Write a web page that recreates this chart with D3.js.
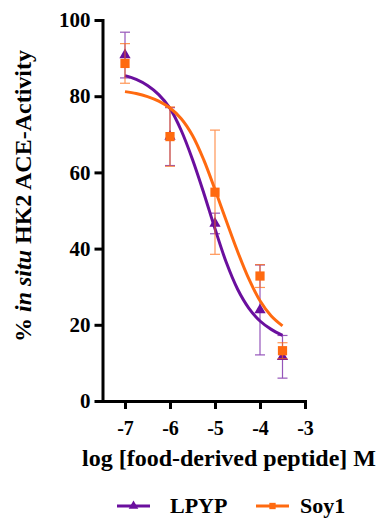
<!DOCTYPE html>
<html>
<head>
<meta charset="utf-8">
<script src="https://cdn.jsdelivr.net/npm/d3@7"></script>
<style>
  body { margin: 0; background: #fff; }
</style>
</head>
<body>
<svg width="382" height="529"></svg>
<script>
// measured points (log M) with SD
const doses = [-7, -6, -5, -4, -3.5];
const lpypMean = [90.8, 69.4, 46.6, 23.9, 11.6];
const lpypErr = [6.0, 7.6, 2.7, 11.8, 5.6];
const soyMean = [88.6, 69.4, 54.8, 32.8, 13.2];
const soyErr = [5.2, 7.8, 16.3, 3.0, 2.1];

// fitted curves
const fitX = [-7, -6.75, -6.5, -6.25, -6, -5.75, -5.5, -5.25, -5, -4.75, -4.5, -4.25, -4, -3.75, -3.5];
const lpypFit = [85.4, 84.4, 82.8, 80.4, 76.8, 71.0, 63.4, 54.6, 45.2, 36.4, 29.4, 24.4, 21.0, 18.8, 17.2];
const soyFit = [81.2, 80.7, 79.9, 78.7, 76.9, 74.1, 69.7, 63.3, 55.5, 47.3, 39.3, 32.1, 26.3, 22.3, 19.7];

const xTicks = [-7, -6, -5, -4, -3];
const yTicks = [0, 20, 40, 60, 80, 100];

const purple = "#6a0f9e";
const orange = "#ff6a10";
const FONT = "'Liberation Serif', 'Times New Roman', Times, serif";

const svg = d3.select("svg");
const x = d3.scaleLinear().domain([-7.5, -3]).range([102.5, 305]);
const y = d3.scaleLinear().domain([0, 100]).range([401, 20]);

// axes
const gx = svg.append("g").attr("transform", "translate(0,401)")
  .call(d3.axisBottom(x).tickValues(xTicks).tickSize(8).tickSizeOuter(0).tickPadding(12).tickFormat(d => String(d)));
const gy = svg.append("g").attr("transform", "translate(102.5,0)")
  .call(d3.axisLeft(y).tickValues(yTicks).tickSize(8).tickSizeOuter(0).tickPadding(4));
gx.attr("font-size", 20);
gy.attr("font-size", 21);
[gx, gy].forEach(g => {
  g.attr("font-family", FONT).attr("font-weight", "bold");
  g.select(".domain").attr("stroke", "#000").attr("stroke-width", 3).attr("stroke-linecap", "square");
  g.selectAll(".tick line").attr("stroke", "#000").attr("stroke-width", 3);
  g.selectAll(".tick text").attr("fill", "#000");
});

// axis titles
svg.append("text")
  .attr("x", 229).attr("y", 466)
  .attr("text-anchor", "middle")
  .attr("font-family", FONT).attr("font-weight", "bold").attr("font-size", 24)
  .text("log [food-derived peptide] M");

const yl = svg.append("text")
  .attr("transform", "translate(31,196) rotate(-90)")
  .attr("text-anchor", "middle")
  .attr("font-family", FONT).attr("font-weight", "bold").attr("font-size", 24);
yl.append("tspan").text("% ");
yl.append("tspan").attr("font-style", "italic").text("in situ");
yl.append("tspan").text(" HK2 ACE-Activity");

const line = d3.line().x(d => x(d[0])).y(d => y(d[1])).curve(d3.curveCatmullRom);

function series(means, errs, fit, color) {
  const g = svg.append("g");
  const pts = doses.map((d, i) => ({ d, m: means[i], e: errs[i] }));
  // error bars
  const eb = g.selectAll(".eb").data(pts).enter().append("g")
    .attr("stroke", color).attr("stroke-width", 1.2).attr("opacity", 0.7);
  eb.append("line").attr("x1", p => x(p.d)).attr("x2", p => x(p.d))
    .attr("y1", p => y(p.m + p.e)).attr("y2", p => y(p.m - p.e));
  eb.append("line").attr("x1", p => x(p.d) - 5).attr("x2", p => x(p.d) + 5)
    .attr("y1", p => y(p.m + p.e)).attr("y2", p => y(p.m + p.e));
  eb.append("line").attr("x1", p => x(p.d) - 5).attr("x2", p => x(p.d) + 5)
    .attr("y1", p => y(p.m - p.e)).attr("y2", p => y(p.m - p.e));
  // fit
  g.append("path").datum(fitX.map((v, i) => [v, fit[i]]))
    .attr("d", line).attr("fill", "none").attr("stroke", color).attr("stroke-width", 3);
  return { g, pts };
}

const sym = {
  tri: d3.symbol().type(d3.symbolTriangle).size(55),
  sq: d3.symbol().type(d3.symbolSquare).size(85)
};

const a = series(lpypMean, lpypErr, lpypFit, purple);
const b = series(soyMean, soyErr, soyFit, orange);
a.g.selectAll(".m").data(a.pts).enter().append("path")
  .attr("d", sym.tri).attr("fill", purple)
  .attr("transform", p => `translate(${x(p.d)},${y(p.m)})`);
b.g.selectAll(".m").data(b.pts).enter().append("path")
  .attr("d", sym.sq).attr("fill", orange)
  .attr("transform", p => `translate(${x(p.d)},${y(p.m)})`);

// legend
const legend = [
  { name: "LPYP", color: purple, s: d3.symbol().type(d3.symbolTriangle).size(40), x0: 117, tx: 53 },
  { name: "Soy1", color: orange, s: d3.symbol().type(d3.symbolSquare).size(40), x0: 256, tx: 44 }
];
const lg = svg.append("g").selectAll("g").data(legend).enter().append("g")
  .attr("transform", d => `translate(${d.x0},506)`);
lg.append("line").attr("x1", 0).attr("x2", 33).attr("stroke", d => d.color).attr("stroke-width", 3);
lg.append("path").attr("d", d => d.s()).attr("fill", d => d.color)
  .attr("transform", "translate(16.5,0)");
lg.append("text").attr("x", d => d.tx).attr("y", 7)
  .attr("font-family", FONT).attr("font-weight", "bold").attr("font-size", 22)
  .text(d => d.name);
</script>
</body>
</html>
